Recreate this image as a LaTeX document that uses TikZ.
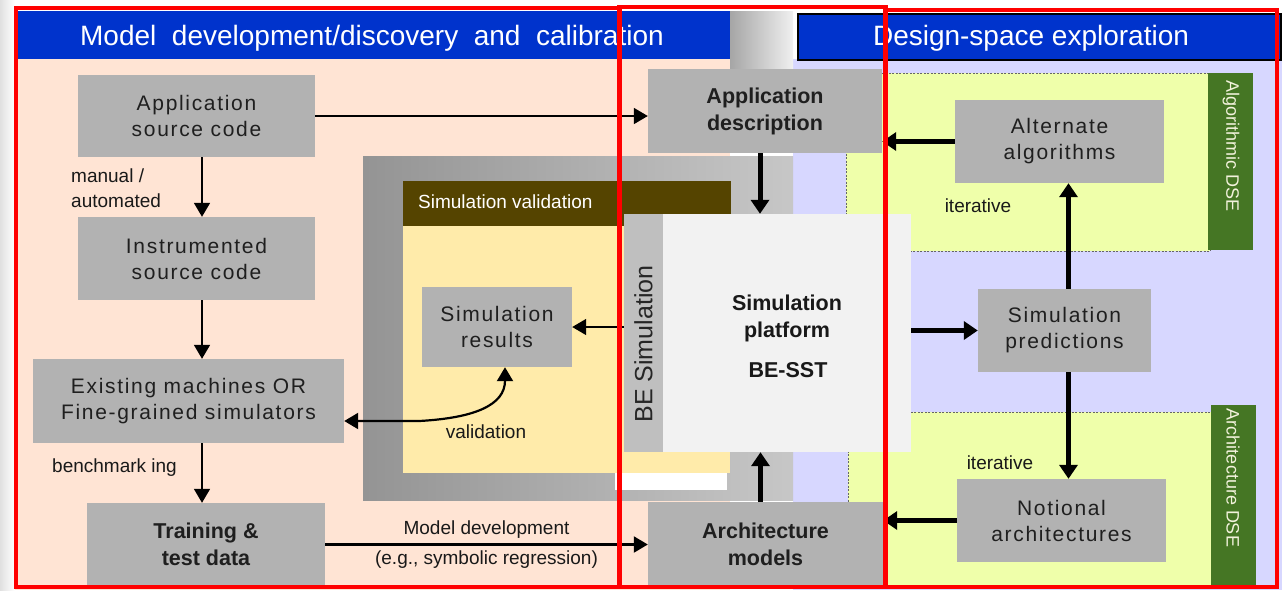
\documentclass[tikz,border=0pt]{standalone}
\usepackage{fontspec}
\setmainfont{Liberation Sans}
\newfontfamily\lspfont[LetterSpace=8]{Liberation Sans}
\usetikzlibrary{arrows.meta}
\definecolor{hdrblue}{HTML}{0033CC}
\definecolor{peach}{HTML}{FFE4D4}
\definecolor{lavender}{HTML}{D7D7FF}
\definecolor{boxgray}{HTML}{B2B2B2}
\definecolor{platgray}{HTML}{F2F2F2}
\definecolor{stripgray}{HTML}{BFBFBF}
\definecolor{valbrown}{HTML}{554400}
\definecolor{valyellow}{HTML}{FFEBAA}
\definecolor{dseyellow}{HTML}{EFFFAA}
\definecolor{dsegreen}{HTML}{457624}
\definecolor{tabtext}{HTML}{F2F2DC}
\definecolor{redline}{HTML}{FF0000}
\newcommand\boxfnt{\lspfont\fontsize{21}{26}\selectfont}
\newcommand\boldfnt{\fontsize{21.5}{27}\selectfont\bfseries}
\newcommand\lblfnt{\fontsize{19}{25}\selectfont}
\begin{document}
\begin{tikzpicture}[x=1pt,y=-1pt,
  gbox/.style={fill=boxgray, text=black!88, font=\boxfnt, align=center, inner sep=0pt},
  bbox/.style={fill=boxgray, text=black!88, font=\boldfnt, align=center, inner sep=0pt},
  lbl/.style={font=\lblfnt, text=black!90, inner sep=0pt},
  thinarr/.style={line width=1.8pt, -{Triangle[length=14pt,width=16pt]}},
  thickarr/.style={line width=5pt, -{Triangle[length=14pt,width=18pt]}},
  hdr/.style={fill=hdrblue, inner sep=0pt},
  hdrtxt/.style={text=white, font=\fontsize{28}{32}\selectfont, inner sep=0pt},
  tab/.style={fill=dsegreen, text=tabtext, font=\fontsize{18}{20}\selectfont, inner sep=0pt},
  dsebox/.style={fill=dseyellow, draw=black!60, line width=0.8pt, dash pattern=on 2pt off 1.5pt},
  redbox/.style={draw=redline, line width=4pt}
]
\useasboundingbox (0,0) rectangle (1284,590);
\fill[white] (0,0) rectangle (1284,590);
\shade[left color=black!12, right color=white] (0,0) rectangle (15,590);
% regions
\fill[peach] (15,59) rectangle (730,590);
\fill[lavender] (793,59) rectangle (1282,590);
\shade[left color=black!35, right color=black!6] (730,11) rectangle (793,70);
% headers
\node[hdr, minimum width=715pt, minimum height=48pt, anchor=north west] (hdrL) at (15,11) {};
\node[hdrtxt] (hdrLtxt) at (372,38.5) {Model\ \ development/discovery\ \ and\ \ calibration};
\node[hdr, draw=black, line width=1.5pt, minimum width=483pt, minimum height=46pt, anchor=north west] (hdrR) at (797,13) {};
\node[hdrtxt] (hdrRtxt) at (1031,38.5) {Design-space exploration};
% simulation validation group
\shade[left color=black!42, right color=black!22] (363,156) rectangle (793,500);
\fill[valyellow] (403,226) rectangle (730,473);
\fill[white] (615,473) rectangle (727,490);
\node[fill=valbrown, minimum width=328pt, minimum height=45pt, anchor=north west, inner sep=0pt] (valhdr) at (403,181) {};
\node[text=white, font=\fontsize{19}{22}\selectfont, inner sep=0pt, anchor=west] (valtxt) at (418,202) {Simulation validation};
% DSE boxes
\draw[dsebox] (846,73) rectangle (1210,251);
\draw[dsebox] (848,412) rectangle (1212,586);
\node[tab, minimum width=45pt, minimum height=177pt, anchor=north west] (tabA) at (1208,73) {};
\node[tab, rotate=-90] (tabAtxt) at (1231,146) {Algorithmic DSE};
\node[tab, minimum width=45pt, minimum height=183pt, anchor=north west] (tabB) at (1211,405) {};
\node[tab, rotate=-90] (tabBtxt) at (1233,478) {Architecture DSE};
% left column
\node[gbox, minimum width=237pt, minimum height=82pt] (appsrc) at (196.5,116) {Application\\source code};
\node[gbox, minimum width=237pt, minimum height=83pt] (instr) at (196.5,258.5) {Instrumented\\source code};
\node[gbox, minimum width=311pt, minimum height=84pt] (exist) at (188.5,401) {Existing machines OR\\Fine-grained simulators};
\node[bbox, minimum width=238pt, minimum height=83pt] (train) at (206,544.5) {Training \&\\test data};
% centre column
\node[bbox, minimum width=234pt, minimum height=84pt] (appdesc) at (765,111) {Application\\description};
\node[bbox, minimum width=235pt, minimum height=85pt] (archm) at (765.5,544.5) {Architecture\\models};
\node[gbox, minimum width=150pt, minimum height=80pt] (simres) at (497,327) {Simulation\\results};
\node[fill=platgray, minimum width=287pt, minimum height=238pt, inner sep=0pt] (simplat) at (767.5,333) {};
\node[fill=stripgray, minimum width=39pt, minimum height=238pt, inner sep=0pt, anchor=west] (strip) at (simplat.west) {};
\node[font=\fontsize{25}{28}\selectfont, text=black!85, rotate=90, inner sep=0pt] (stripTxt) at (643.5,344) {BE Simulation};
\node[font=\boldfnt, align=center, text=black!90, inner sep=0pt] (platTxt) at (787,318) {Simulation\\platform};
\node[font=\boldfnt, text=black!90, inner sep=0pt] (besst) at (788,370) {BE-SST};
% right column
\node[gbox, minimum width=209pt, minimum height=83pt] (alt) at (1059.5,141.5) {Alternate\\algorithms};
\node[gbox, minimum width=173pt, minimum height=83pt] (simpred) at (1064.5,330.5) {Simulation\\predictions};
\node[gbox, minimum width=209pt, minimum height=83pt] (notional) at (1061.5,520.5) {Notional\\architectures};
% labels
\node[lbl, align=left, anchor=west] (manlbl) at (71,188) {manual /\\automated};
\node[lbl, anchor=west] (benchlbl) at (52,468) {benchmark ing};
\node[lbl] (vallbl) at (486,432) {validation};
\node[lbl] (iterA) at (978,206) {iterative};
\node[lbl] (iterB) at (1000,463) {iterative};
% connectors
\draw[thinarr] (appsrc.east) -- (appsrc.east -| appdesc.west);
\draw[thinarr] ([xshift=5.5pt]appsrc.south) -- ([xshift=5.5pt]instr.north);
\draw[thinarr] ([xshift=5.5pt]instr.south) -- ([xshift=5.5pt]instr.south |- exist.north);
\draw[thinarr] ([xshift=-4pt]train.north |- exist.south) -- ([xshift=-4pt]train.north);
\draw[thinarr, line width=2.2pt] (train.east) -- (train.east -| archm.west)
  node[lbl, midway, above=5pt] (mdlbl) {Model development}
  node[lbl, midway, below=5pt] (eglbl) {(e.g., symbolic regression)};
\draw[thickarr] ([xshift=-5pt]appdesc.south) -- ([xshift=-5pt]appdesc.south |- simplat.north);
\draw[thickarr] ([xshift=-5pt]archm.north) -- ([xshift=-5pt]archm.north |- simplat.south);
\draw[thinarr, line width=1.5pt] (simres.east -| simplat.west) -- (simres.east);
\draw[thickarr] (simpred.west -| simplat.east) -- (simpred.west);
\draw[thickarr] ([xshift=4pt]simpred.north) -- ([xshift=4pt]simpred.north |- alt.south);
\draw[thickarr] ([xshift=4pt]simpred.south) -- ([xshift=4pt]simpred.south |- notional.north);
\draw[thickarr, line width=4.5pt] (alt.west) -- (alt.west -| appdesc.east);
\draw[thickarr, line width=4.5pt] (notional.west) -- (notional.west -| archm.east);
\draw[line width=2.2pt, {Triangle[length=14pt,width=16pt]}-{Triangle[length=14pt,width=16pt]}]
  ([yshift=-20pt]exist.east) -- ++(75,0) .. controls +(55,-3) and +(0,38) .. ([xshift=8pt]simres.south);
% red overlay frames
\draw[redbox] (16,8) rectangle (620,587);
\draw[redbox] (619,7) rectangle (886,587);
\draw[redbox] (885,10) rectangle (1277,587);
\end{tikzpicture}
\end{document}
